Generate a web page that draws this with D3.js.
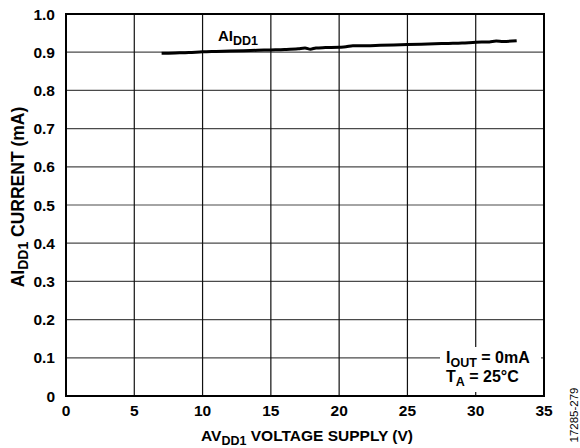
<!DOCTYPE html>
<html>
<head>
<meta charset="utf-8">
<script src="https://cdn.jsdelivr.net/npm/d3@7"></script>
<style>
  body { margin: 0; background: #fff; }
  text { font-family: Arial, "Liberation Sans", sans-serif; }
</style>
</head>
<body>
<div id="viz"></div>
<script>
// supply voltage (V) and AIDD1 current (mA)
const voltage = [7, 8, 9, 10, 11, 12, 13, 14, 15, 16, 17, 17.5, 17.9, 18.3, 19, 20, 20.5, 21, 22, 23, 24, 25, 26, 27, 28, 29, 30, 31, 31.5, 32, 33];
const current = [0.897, 0.898, 0.899, 0.901, 0.902, 0.903, 0.904, 0.905, 0.906, 0.907, 0.909, 0.911, 0.908, 0.911, 0.912, 0.913, 0.914, 0.917, 0.917, 0.918, 0.919, 0.920, 0.921, 0.922, 0.923, 0.924, 0.926, 0.927, 0.929, 0.928, 0.930];
const xTicks = [0, 5, 10, 15, 20, 25, 30, 35];
const yTicks = [0, 0.1, 0.2, 0.3, 0.4, 0.5, 0.6, 0.7, 0.8, 0.9, 1.0];

const w = 580, h = 448;
const padL = 66, padR = 544, padT = 14, padB = 396;
const fs = 15.5, fsSub = 12.5;

const svg = d3.select("#viz")
  .append("svg")
  .attr("width", w)
  .attr("height", h);

const x = d3.scaleLinear().domain([0, 35]).range([padL, padR]);
const y = d3.scaleLinear().domain([0, 1]).range([padB, padT]);

// grid
svg.append("g")
  .selectAll("line")
  .data(yTicks)
  .enter()
  .append("line")
  .attr("x1", padL).attr("x2", padR)
  .attr("y1", d => y(d)).attr("y2", d => y(d))
  .attr("stroke", "#4a4a4a")
  .attr("stroke-width", 1.2);

svg.append("g")
  .selectAll("line")
  .data(xTicks)
  .enter()
  .append("line")
  .attr("x1", d => x(d)).attr("x2", d => x(d))
  .attr("y1", padT).attr("y2", padB)
  .attr("stroke", "#111")
  .attr("stroke-width", 1.2);

// white box behind the conditions note
svg.append("rect")
  .attr("x", 440).attr("y", 347)
  .attr("width", 101).attr("height", 45)
  .attr("fill", "#fff");

// frame
svg.append("rect")
  .attr("x", padL).attr("y", padT)
  .attr("width", padR - padL).attr("height", padB - padT)
  .attr("fill", "none")
  .attr("stroke", "#000")
  .attr("stroke-width", 2);

// curve
const pts = voltage.map((v, i) => [v, current[i]]);
svg.append("path")
  .datum(pts)
  .attr("d", d3.line().x(d => x(d[0])).y(d => y(d[1])).curve(d3.curveMonotoneX))
  .attr("fill", "none")
  .attr("stroke", "#000")
  .attr("stroke-width", 3);

// tick labels
svg.append("g")
  .selectAll("text")
  .data(yTicks)
  .enter()
  .append("text")
  .attr("x", 55)
  .attr("y", d => y(d) + 5.5)
  .attr("text-anchor", "end")
  .attr("font-size", fs)
  .attr("font-weight", "bold")
  .text(d => d === 0 ? "0" : d.toFixed(1));

svg.append("g")
  .selectAll("text")
  .data(xTicks)
  .enter()
  .append("text")
  .attr("x", d => x(d))
  .attr("y", 416)
  .attr("text-anchor", "middle")
  .attr("font-size", fs)
  .attr("font-weight", "bold")
  .text(d => d);

// axis titles
const xt = svg.append("text")
  .attr("x", 307).attr("y", 441)
  .attr("text-anchor", "middle")
  .attr("font-size", fs)
  .attr("font-weight", "bold");
xt.append("tspan").text("AV");
xt.append("tspan").attr("dy", 3.5).attr("font-size", fsSub).text("DD1");
xt.append("tspan").attr("dy", -3.5).text(" VOLTAGE SUPPLY (V)");

const yt = svg.append("text")
  .attr("transform", "translate(24,197) rotate(-90)")
  .attr("text-anchor", "middle")
  .attr("font-size", 17.5)
  .attr("font-weight", "bold");
yt.append("tspan").text("AI");
yt.append("tspan").attr("dy", 4).attr("font-size", 14).text("DD1");
yt.append("tspan").attr("dy", -4).text(" CURRENT (mA)");

// series label
const lab = svg.append("text")
  .attr("x", 218).attr("y", 41)
  .attr("font-size", 15)
  .attr("font-weight", "bold");
lab.append("tspan").text("AI");
lab.append("tspan").attr("dy", 3.5).attr("font-size", fsSub).text("DD1");

// conditions
const c1 = svg.append("text")
  .attr("x", 446).attr("y", 363)
  .attr("font-size", 16)
  .attr("font-weight", "bold");
c1.append("tspan").text("I");
c1.append("tspan").attr("dy", 3.5).attr("font-size", fsSub).text("OUT");
c1.append("tspan").attr("dy", -3.5).text(" = 0mA");

const c2 = svg.append("text")
  .attr("x", 446).attr("y", 382)
  .attr("font-size", 16)
  .attr("font-weight", "bold");
c2.append("tspan").text("T");
c2.append("tspan").attr("dy", 3.5).attr("font-size", fsSub).text("A");
c2.append("tspan").attr("dy", -3.5).text(" = 25°C");

// figure id
svg.append("text")
  .attr("transform", "translate(578,415) rotate(-90)")
  .attr("text-anchor", "middle")
  .attr("font-size", 11.5)
  .text("17285-279");
</script>
</body>
</html>
